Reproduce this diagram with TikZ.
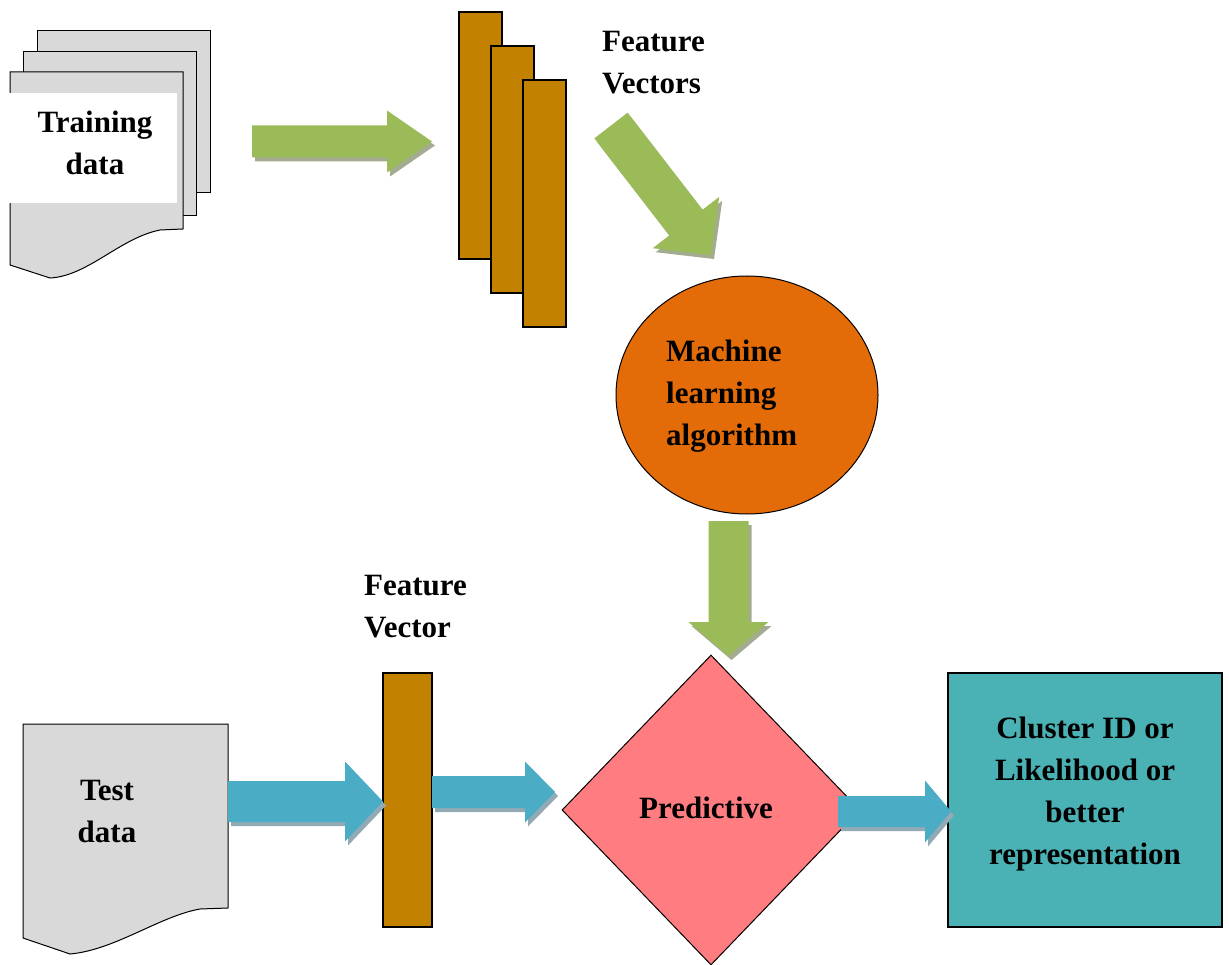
\documentclass[tikz,border=0pt]{standalone}
\usepackage{fontspec}
\setmainfont{Liberation Serif}
\usetikzlibrary{shapes.geometric,calc}

\definecolor{docgray}{RGB}{217,217,217}
\definecolor{barbrown}{RGB}{194,130,0}
\definecolor{arrgreen}{RGB}{155,187,89}
\definecolor{greenshade}{RGB}{163,172,145}
\definecolor{arrblue}{RGB}{75,172,198}
\definecolor{blueshade}{RGB}{145,170,180}
\definecolor{mlorange}{RGB}{227,108,9}
\definecolor{predpink}{RGB}{255,124,128}
\definecolor{resteal}{RGB}{74,177,180}

% body of a block arrow: from, tip, shaft half width, head half width, fill
\newcommand\bigarrowbody[5]{%
  \fill[#5] ($(#1)!#3!90:(#2)$) -- ($(ba-h)!#3!90:(#2)$) -- ($(ba-h)!#4!90:(#2)$)
    -- (#2) -- ($(ba-h)!#4!-90:(#2)$) -- ($(ba-h)!#3!-90:(#2)$) -- ($(#1)!#3!-90:(#2)$) -- cycle;}
% block arrow with drop shadow: from, tip, shaft half, head half, head length, colour, shadow colour
\newcommand\bigarrow[7]{%
  \coordinate (ba-h) at ($(#2)!#5!(#1)$);
  \begin{scope}[transform canvas={shift={(3,4)}}]
    \bigarrowbody{#1}{#2}{#3}{#4}{#7}
  \end{scope}
  \bigarrowbody{#1}{#2}{#3}{#4}{#6}}

\tikzset{
  doc/.style={fill=docgray, draw=black, line width=1pt},
  bar/.style={draw=black, fill=barbrown, line width=1.2pt, inner sep=0pt},
  lbl/.style={font=\bfseries\fontsize{31}{42}\selectfont, align=center, inner sep=0pt},
}

\begin{document}
\begin{tikzpicture}[x=1pt, y=-1pt]
\useasboundingbox (0,0) rectangle (1229,965);

% training data: stack of pages
\draw[doc] (37,31) rectangle (210,193);
\draw[doc] (23,52) rectangle (196,216);
\draw[doc] (10,72) -- (183,72) -- (183,229) -- (160,230)
  .. controls (120,238) and (88,276) .. (50,278) -- (10,265) -- cycle;
\fill[white] (9.4,93) rectangle (177,203);
\node[lbl] (train) at (95,143) {Training\\data};

% feature vectors
\node[bar, minimum width=43pt, minimum height=247pt] (fv1) at (480.5,135.5) {};
\node[bar, minimum width=43pt, minimum height=247pt] (fv2) at (512.5,169.5) {};
\node[bar, minimum width=43pt, minimum height=247pt] (fv3) at (544.5,203.5) {};
\node[lbl, align=left, anchor=west] (fvlbl) at (602,63) {Feature\\Vectors};

% learning algorithm
\node[draw=black, ellipse, fill=mlorange, line width=1pt, inner sep=0pt,
      minimum width=262pt, minimum height=238pt] (mla) at (747,395) {};
\node[lbl, align=left, anchor=west] (mlatext) at (666,396) {Machine\\learning\\algorithm};

% test data document
\draw[doc] (23,724) -- (228,724) -- (228,908) -- (200,909)
  .. controls (160,916) and (115,950) .. (70,954) -- (23,938) -- cycle;
\node[lbl] (test) at (107,811) {Test\\data};

% single feature vector
\node[bar, minimum width=49pt, minimum height=254pt] (fv) at (407.5,800) {};
\node[lbl, align=left, anchor=west] (fvtext) at (364,607) {Feature\\Vector};

% predictive model
\node[draw=black, diamond, fill=predpink, line width=1pt, inner sep=0pt,
      minimum width=298pt, minimum height=310pt] (pred) at (711,810) {};
\node[lbl] (predtext) at (706,808) {Predictive};

% result
\node[draw=black, fill=resteal, line width=1.2pt, inner sep=0pt,
      minimum width=274pt, minimum height=254pt] (res) at (1085,800) {};
\node[lbl] (restext) at (1085,794) {Cluster ID or\\Likelihood or\\better\\representation};

% arrow end points
\coordinate (g1s) at (252,141.5);  \coordinate (g1t) at (432,141.5);
\coordinate (g2s) at (611,125.5);  \coordinate (g2t) at (711,255);
\coordinate (g3s) at (728.5,521);  \coordinate (g3t) at (728.5,656);
\coordinate (b1s) at (228,801.5);  \coordinate (b1t) at (383,801.5);
\coordinate (b2s) at (432,792);    \coordinate (b2t) at (555,792);
\coordinate (b3s) at (838,811.5);  \coordinate (b3t) at (951,811.5);

% block arrows
\bigarrow{g1s}{g1t}{16pt}{31pt}{45pt}{arrgreen}{greenshade}
\bigarrow{g2s}{g2t}{21pt}{42pt}{41pt}{arrgreen}{greenshade}
\bigarrow{g3s}{g3t}{20pt}{40pt}{34pt}{arrgreen}{greenshade}
\bigarrow{b1s}{b1t}{20.5pt}{40pt}{38pt}{arrblue}{blueshade}
\bigarrow{b2s}{b2t}{16pt}{30.5pt}{30pt}{arrblue}{blueshade}
\bigarrow{b3s}{b3t}{15.5pt}{31pt}{26pt}{arrblue}{blueshade}
\end{tikzpicture}
\end{document}
